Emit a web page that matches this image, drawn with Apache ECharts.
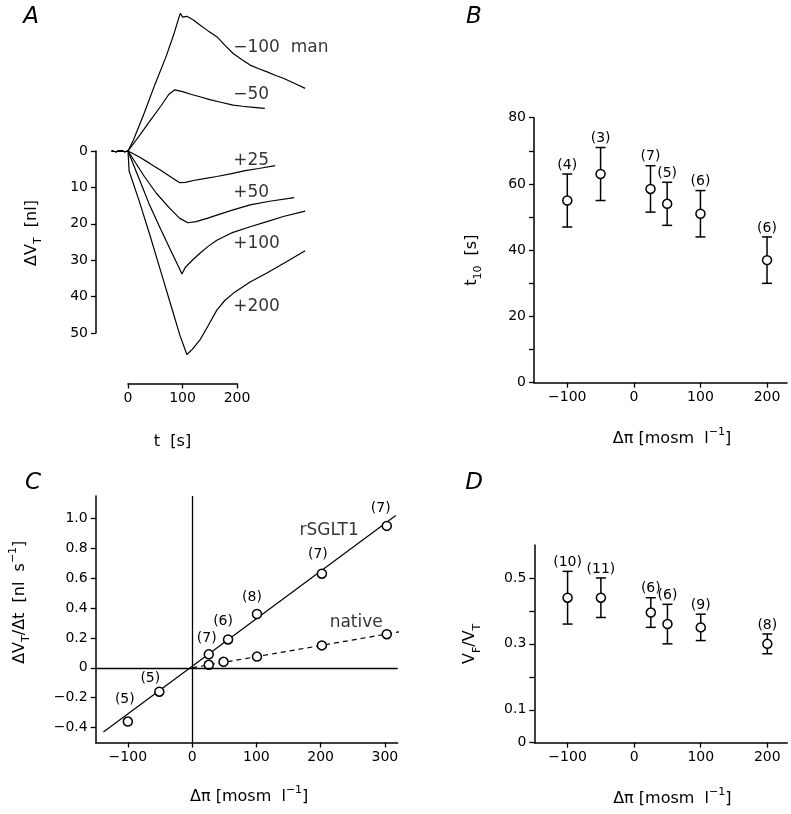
<!DOCTYPE html>
<html>
<head>
<meta charset="utf-8">
<script src="https://cdn.jsdelivr.net/npm/echarts@6/dist/echarts.min.js"></script>
<style>
  html, body { margin: 0; padding: 0; background: #fff; }
  #chart { width: 791px; height: 814px; }
</style>
</head>
<body>
<div id="chart"></div>
<script>
// ---- panel A: volume traces (t [s], dVT [nl]) ----
var baseline = [[-30, 0], [-22, 0.2], [-14, -0.1], [-6, 0.2], [0, 0]];
var traceM100 = [[10, -3], [30, -10.5], [50, -18.5], [70, -26], [85, -32.5], [93, -36.5], [96, -37.8], [100, -36.8],
  [108, -37], [120, -36], [132, -34.6], [147, -33], [163, -31.4], [178, -29], [193, -26.8], [210, -25], [224, -23.6],
  [240, -22.6], [254, -21.8], [270, -20.8], [285, -20], [305, -18.6], [325, -17.2]];
var traceM50 = [[20, -4], [40, -8.2], [60, -12.3], [75, -15.6], [86, -16.8], [100, -16.3], [115, -15.6], [132, -14.9],
  [150, -14.1], [170, -13.4], [193, -12.6], [210, -12.3], [230, -12], [251, -11.7]];
var traceP25 = [[20, 1.6], [40, 3.4], [60, 5.3], [80, 7.3], [95, 8.7], [105, 8.6], [120, 8.1], [140, 7.6], [163, 7.0],
  [190, 6.2], [215, 5.4], [240, 4.8], [270, 4.0]];
var traceP50 = [[15, 3.5], [30, 7], [52, 11.6], [75, 15.5], [95, 18.5], [110, 19.7], [125, 19.4], [145, 18.5],
  [163, 17.6], [190, 16.3], [224, 14.8], [260, 13.8], [305, 12.8]];
var traceP100 = [[20, 7.5], [40, 15], [60, 21.5], [80, 27.8], [95, 32.5], [99, 33.8], [105, 32], [118, 30], [132, 28.1],
  [147, 26.2], [163, 24.5], [190, 22.5], [224, 20.8], [255, 19.4], [285, 18.0], [325, 16.5]];
var traceP200 = [[2, 5.5], [20, 13.5], [40, 23], [60, 33], [80, 43], [95, 50.5], [108, 55.9], [118, 54.5], [132, 51.9],
  [147, 48], [163, 43.7], [178, 41], [193, 39.1], [224, 36], [254, 33.6], [290, 30.5], [325, 27.4]];
var traceLabels = [[193, -28.3, '\u2212100  man'], [193, -15.4, '\u221250'], [193, 2.5, '+25'],
  [193, 11.5, '+50'], [193, 25.3, '+100'], [193, 42.6, '+200']];

// ---- panel B: t10 [s] vs d-pi ----
var piB = [-100, -50, 25, 50, 100, 200];
var t10Mean = [55, 63, 58.5, 54, 51, 37];
var t10Lo = [47, 55, 51.5, 47.5, 44, 30];
var t10Hi = [63, 71, 65.5, 60.5, 58, 44];
var t10N = [4, 3, 7, 5, 6, 6];

// ---- panel C: dVT/dt vs d-pi ----
var piRS = [-100, -51, 26, 56, 101, 202, 303];
var rateRS = [-0.36, -0.16, 0.09, 0.19, 0.36, 0.63, 0.95];
var nRS = [5, 5, 7, 6, 8, 7, 7];
var piNat = [26, 49, 101, 202, 303];
var rateNat = [0.02, 0.04, 0.075, 0.15, 0.225];
var fitRS = [[-138, -0.43], [317, 1.02]];
var fitNat = [[0, 0], [322, 0.24]];
var curveNames = [[167, 0.917, 'rSGLT1'], [214, 0.306, 'native']];

// ---- panel D: VF/VT vs d-pi ----
var piD = [-100, -50, 25, 50, 100, 200];
var vfMean = [0.44, 0.44, 0.395, 0.36, 0.35, 0.30];
var vfLo = [0.36, 0.38, 0.35, 0.30, 0.31, 0.27];
var vfHi = [0.52, 0.50, 0.44, 0.42, 0.39, 0.33];
var vfN = [10, 11, 6, 6, 9, 8];

var F = '"DejaVu Sans", "Liberation Sans", Arial, sans-serif';
var nRSOffsets = [[-3, -22], [-9, -13], [-2, -16], [-5, -18], [-5, -17], [-4, -19], [-6, -18]];

function minus(v) { return String(v).replace('-', '\u2212'); }
function oneDec(v) { return v === 0 ? '0' : v.toFixed(1).replace('-', '\u2212'); }

function nameStyle(padding) {
  return {
    color: '#000', fontSize: 16, fontFamily: F, lineHeight: 24, padding: padding,
    rich: {
      sub: { fontSize: 11, fontFamily: F, color: '#000', verticalAlign: 'bottom', lineHeight: 16 },
      sup: { fontSize: 11, fontFamily: F, color: '#000', verticalAlign: 'top', lineHeight: 16 }
    }
  };
}

function axis(grid, min, max, ticks, labels, more) {
  var a = {
    type: 'value', gridIndex: grid, min: min, max: max,
    splitLine: { show: false },
    axisLine: { show: true, onZero: false, lineStyle: { color: '#000', width: 1.5 } },
    axisTick: { show: true, length: 5, lineStyle: { color: '#000', width: 1.3 }, customValues: ticks },
    axisLabel: { color: '#000', fontSize: 14, fontFamily: F, margin: 8, customValues: labels, formatter: minus },
    nameLocation: 'middle'
  };
  for (var k in more) a[k] = more[k];
  return a;
}

function hidden(grid, min, max, inverse) {
  return { type: 'value', gridIndex: grid, min: min, max: max, inverse: !!inverse, show: false };
}

function errorBars(xIdx, yIdx, xs, lo, hi, ns) {
  return {
    type: 'custom', xAxisIndex: xIdx, yAxisIndex: yIdx, z: 2,
    encode: { x: 0, y: [1, 2] },
    data: xs.map(function (x, i) { return [x, lo[i], hi[i], ns[i]]; }),
    renderItem: function (params, api) {
      var top = api.coord([api.value(0), api.value(2)]);
      var bot = api.coord([api.value(0), api.value(1)]);
      var st = { stroke: '#000', lineWidth: 1.5 };
      return {
        type: 'group', children: [
          { type: 'line', shape: { x1: top[0], y1: top[1], x2: bot[0], y2: bot[1] }, style: st },
          { type: 'line', shape: { x1: top[0] - 5, y1: top[1], x2: top[0] + 5, y2: top[1] }, style: st },
          { type: 'line', shape: { x1: bot[0] - 5, y1: bot[1], x2: bot[0] + 5, y2: bot[1] }, style: st },
          { type: 'text', x: top[0], y: top[1] - 2,
            style: { text: '(' + api.value(3) + ')', fill: '#000', font: '14px ' + F,
              align: 'center', verticalAlign: 'bottom', textAlign: 'center', textVerticalAlign: 'bottom' } }
        ]
      };
    }
  };
}

function circles(xIdx, yIdx, data) {
  return {
    type: 'scatter', xAxisIndex: xIdx, yAxisIndex: yIdx, z: 3, symbol: 'circle', symbolSize: 9,
    itemStyle: { color: '#fff', borderColor: '#000', borderWidth: 1.5, opacity: 1 },
    data: data
  };
}

function trace(points) {
  return {
    type: 'line', xAxisIndex: 0, yAxisIndex: 0, clip: false, showSymbol: false, symbol: 'none',
    lineStyle: { color: '#000', width: 1.2 },
    data: baseline.concat(points)
  };
}

function textMarks(xIdx, yIdx, data, size) {
  return {
    type: 'scatter', xAxisIndex: xIdx, yAxisIndex: yIdx, clip: false, symbolSize: 0.1,
    itemStyle: { color: 'transparent' },
    label: { show: true, position: 'right', distance: 0, color: '#000', fontSize: size, fontFamily: F,
      formatter: function (p) { return p.data[2]; } },
    data: data
  };
}

var chart = echarts.init(document.getElementById('chart'));

var option = {
  animation: false,
  backgroundColor: '#fff',
  textStyle: { fontFamily: F },
  grid: [
    { left: 111.65, top: 5.4, width: 196.2, height: 353.1 },  // A traces (t -30..330, dV -40..57)
    { left: 534, top: 117.7, width: 253, height: 265 },        // B
    { left: 95.7, top: 496, width: 302, height: 246.5 },       // C
    { left: 534.3, top: 545, width: 253, height: 197.7 },      // D
    { left: 96, top: 151, width: 1, height: 182 },             // A volume axis
    { left: 128, top: 382.5, width: 109, height: 1 }           // A time axis
  ],
  xAxis: [
    hidden(0, -30, 330),
    axis(1, -150, 230, [-100, 0, 100, 200], [-100, 0, 100, 200], {
      name: '\u0394\u03c0 [mosm  l{sup|\u22121}]', nameGap: 44, nameTextStyle: nameStyle([0, 0, 0, 23]) }),
    axis(2, -150, 320, [-100, 0, 100, 200, 300], [-100, 0, 100, 200, 300], {
      name: '\u0394\u03c0 [mosm  l{sup|\u22121}]', nameGap: 42, nameTextStyle: nameStyle([0, 0, 0, 5]) }),
    axis(3, -150, 230, [-100, 0, 100, 200], [-100, 0, 100, 200], {
      name: '\u0394\u03c0 [mosm  l{sup|\u22121}]', nameGap: 44, nameTextStyle: nameStyle([0, 0, 0, 23]) }),
    hidden(4, 0, 1),
    axis(5, 0, 200, [0, 100, 200], [0, 100, 200], {
      name: 't  [s]', nameGap: 46, nameTextStyle: nameStyle([0, 20, 0, 0]) })
  ],
  yAxis: [
    hidden(0, -40, 57, true),
    axis(1, 0, 80, [0, 10, 20, 30, 40, 50, 60, 70, 80], [0, 20, 40, 60, 80], {
      name: 't{sub|10}  [s]', nameGap: 50, nameRotate: 90, nameTextStyle: nameStyle([0, 20, 0, 0]) }),
    axis(2, -0.5, 1.15, [-0.4, -0.2, 0, 0.2, 0.4, 0.6, 0.8, 1.0], [-0.4, -0.2, 0, 0.2, 0.4, 0.6, 0.8, 1.0], {
      name: '\u0394V{sub|T}/\u0394t  [nl  s{sup|\u22121}]', nameGap: 64, nameRotate: 90,
      nameTextStyle: nameStyle([0, 0, 0, 34]) }),
    axis(3, 0, 0.6, [0, 0.1, 0.2, 0.3, 0.4, 0.5], [0, 0.1, 0.3, 0.5], {
      name: 'V{sub|F}/V{sub|T}', nameGap: 52, nameRotate: 90, nameTextStyle: nameStyle(0) }),
    axis(4, 0, 50, [0, 10, 20, 30, 40, 50], [0, 10, 20, 30, 40, 50], {
      inverse: true, name: '\u0394V{sub|T}  [nl]', nameGap: 52, nameRotate: 90,
      nameTextStyle: nameStyle([0, 0, 0, 18]) }),
    hidden(5, 0, 1)
  ],
  graphic: [
    ['A', 31, 17], ['B', 474, 17], ['C', 33, 483], ['D', 474, 483]
  ].map(function (p) {
    return { type: 'text', x: p[1], y: p[2],
      style: { text: p[0], fill: '#000', font: 'italic 23px ' + F,
        align: 'center', verticalAlign: 'middle', textAlign: 'center', textVerticalAlign: 'middle' } };
  }),
  series: [
    trace(traceM100), trace(traceM50), trace(traceP25), trace(traceP50), trace(traceP100), trace(traceP200),
    textMarks(0, 0, traceLabels, 17),
    errorBars(1, 1, piB, t10Lo, t10Hi, t10N),
    circles(1, 1, piB.map(function (x, i) { return [x, t10Mean[i]]; })),
    {
      type: 'line', xAxisIndex: 2, yAxisIndex: 2, showSymbol: false, symbol: 'none',
      lineStyle: { color: '#000', width: 1.2 }, data: fitRS,
      markLine: {
        silent: true, symbol: 'none', label: { show: false },
        lineStyle: { color: '#000', type: 'solid', width: 1.3 },
        data: [{ xAxis: 0 }, { yAxis: 0 }]
      }
    },
    {
      type: 'line', xAxisIndex: 2, yAxisIndex: 2, showSymbol: false, symbol: 'none',
      lineStyle: { color: '#000', width: 1.2, type: [5, 4] }, data: fitNat
    },
    {
      type: 'scatter', xAxisIndex: 2, yAxisIndex: 2, z: 3, symbol: 'circle', symbolSize: 9,
      itemStyle: { color: '#fff', borderColor: '#000', borderWidth: 1.5, opacity: 1 },
      label: { show: true, position: 'inside', color: '#000', fontSize: 14, fontFamily: F,
        formatter: function (p) { return '(' + p.data.n + ')'; } },
      data: piRS.map(function (x, i) {
        return { value: [x, rateRS[i]], n: nRS[i], label: { offset: nRSOffsets[i] } };
      })
    },
    circles(2, 2, piNat.map(function (x, i) { return [x, rateNat[i]]; })),
    textMarks(2, 2, curveNames, 17),
    errorBars(3, 3, piD, vfLo, vfHi, vfN),
    circles(3, 3, piD.map(function (x, i) { return [x, vfMean[i]]; }))
  ]
};

option.yAxis[2].axisLabel.formatter = oneDec;
chart.setOption(option);
</script>
</body>
</html>
